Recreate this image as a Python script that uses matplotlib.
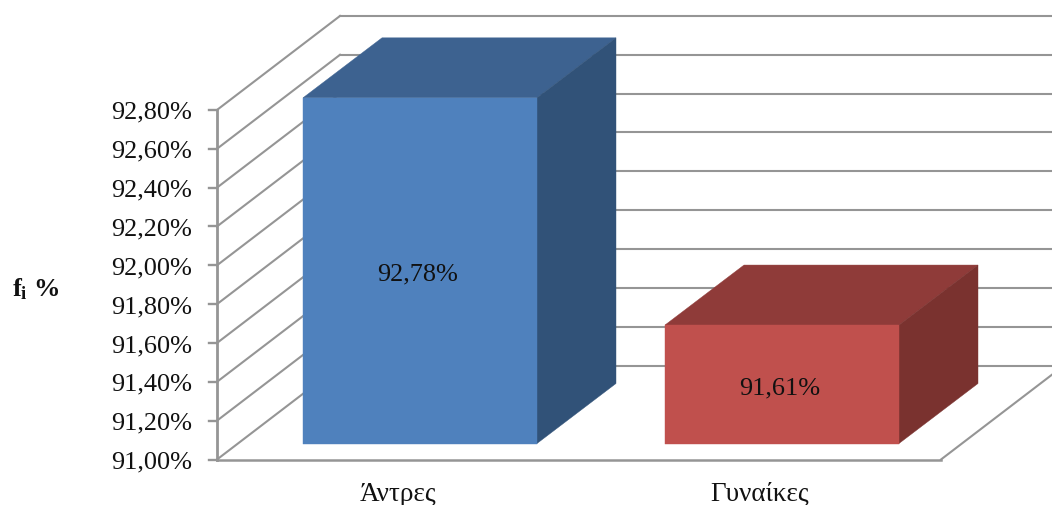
import matplotlib
matplotlib.use("Agg")
import matplotlib.pyplot as plt
from matplotlib.patches import Polygon

plt.rcParams["font.family"] = "Liberation Serif"
plt.rcParams["mathtext.fontset"] = "custom"
plt.rcParams["mathtext.rm"] = "Liberation Serif"
plt.rcParams["mathtext.bf"] = "Liberation Serif:bold"

categories = ["Άντρες", "Γυναίκες"]
values = [92.78, 91.61]
value_labels = ["92,78%", "91,61%"]
ticks = [91.0, 91.2, 91.4, 91.6, 91.8, 92.0, 92.2, 92.4, 92.6, 92.8]
tick_labels = ["91,00%", "91,20%", "91,40%", "91,60%", "91,80%",
               "92,00%", "92,20%", "92,40%", "92,60%", "92,80%"]

# one value unit in figure pixels, x axis is plain pixels
px_per_unit = 194.2
y0_px = 459.5
wall_left = 217
wall_right = 941
wall_dx = 123
wall_dy = 94 / px_per_unit
bar_dx = 79
bar_dy = 60 / px_per_unit
bar_lift = 16 / px_per_unit
bar_width = 234
bar_left = [303, 665]
grid_color = "#959595"
face_colors = [("#4F81BD", "#3D6290", "#315278"), ("#C0504D", "#8F3B39", "#7A322F")]

fig = plt.figure(figsize=(10.52, 5.05), dpi=100)
ax = fig.add_axes([0, 0, 1, 1])
ax.set_xlim(0, 1052)
ax.set_ylim(ticks[0] - (505 - y0_px) / px_per_unit, ticks[0] + y0_px / px_per_unit)
ax.axis("off")

# back wall and left wall gridlines
for t in ticks:
    ax.plot([wall_left, wall_left + wall_dx], [t, t + wall_dy], color=grid_color, lw=1.5, zorder=1)
    ax.plot([wall_left + wall_dx, wall_right + wall_dx], [t + wall_dy, t + wall_dy],
            color=grid_color, lw=1.5, zorder=1)
    ax.plot([wall_left - 8, wall_left], [t, t], color=grid_color, lw=1.7, zorder=2)
    ax.text(192, t - 3 / px_per_unit, tick_labels[ticks.index(t)], ha="right", va="center",
            fontsize=18.9, color="#111111")

# axis and floor edges
ax.plot([wall_left, wall_left], [ticks[0], ticks[-1]], color=grid_color, lw=2.0, zorder=2)
ax.plot([wall_left, wall_right], [ticks[0], ticks[0]], color=grid_color, lw=1.8, zorder=2)
ax.plot([wall_right, wall_right + wall_dx], [ticks[0], ticks[0] + wall_dy], color=grid_color, lw=1.5, zorder=2)

# each bar is three faces sitting slightly inside the floor depth
for i in range(len(values)):
    x0 = bar_left[i]
    x1 = x0 + bar_width
    y0 = ticks[0] + bar_lift
    y1 = y0 + values[i] - ticks[0]
    front, top, side = face_colors[i]
    ax.add_patch(Polygon([(x0, y1), (x0 + bar_dx, y1 + bar_dy), (x1 + bar_dx, y1 + bar_dy), (x1, y1)],
                         facecolor=top, edgecolor=top, lw=0.3, zorder=3))
    ax.add_patch(Polygon([(x1, y0), (x1 + bar_dx, y0 + bar_dy), (x1 + bar_dx, y1 + bar_dy), (x1, y1)],
                         facecolor=side, edgecolor=side, lw=0.3, zorder=3))
    ax.add_patch(Polygon([(x0, y0), (x1, y0), (x1, y1), (x0, y1)],
                         facecolor=front, edgecolor=front, lw=0.3, zorder=4))
    ax.text(x0 + bar_width / 2 - 2, (y0 + y1) / 2 - 0.02, value_labels[i],
            ha="center", va="center", fontsize=18.9, color="#111111", zorder=5)
    ax.text(x0 + bar_width / 2 - 22, ticks[0] - 35 / px_per_unit, categories[i],
            ha="center", va="center", fontsize=19.5, color="#111111")

ax.text(36, ticks[0] + (y0_px - 289) / px_per_unit, r"$\mathbf{f_i}$ $\mathbf{\%}$",
        ha="center", va="center", fontsize=19, color="#111111")

fig.savefig("out.png", dpi=100)
